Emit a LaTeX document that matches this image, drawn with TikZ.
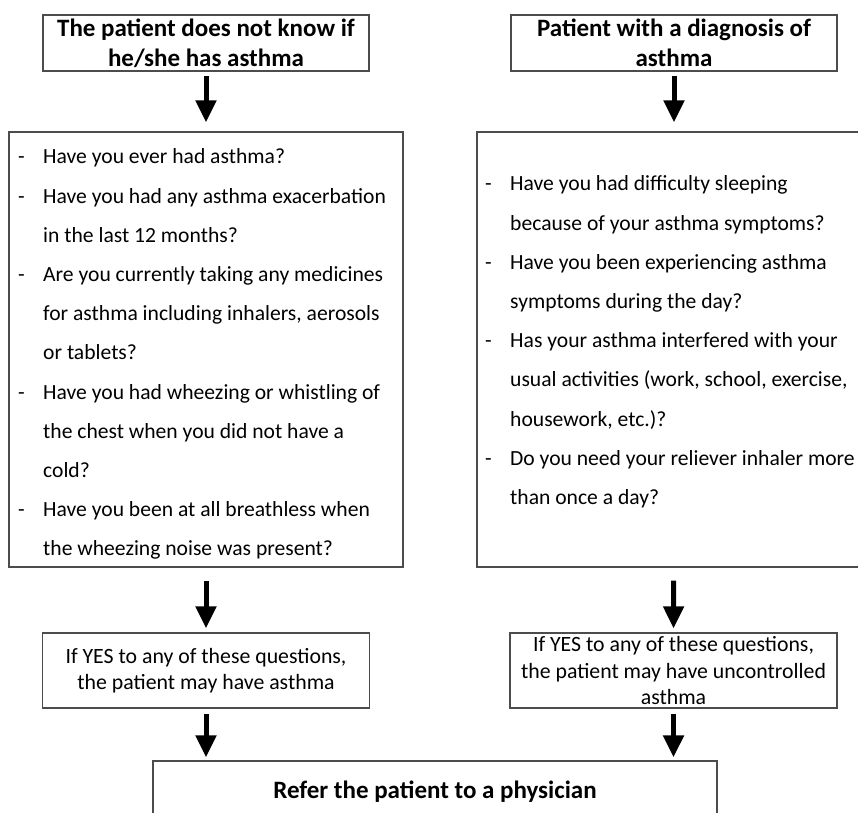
\documentclass[tikz,border=0pt]{standalone}
\usepackage{fontspec}
\setmainfont{Carlito}
\usetikzlibrary{arrows.meta}
\tikzstyle{box}=[rectangle,draw=black!70,line width=1.2pt,inner sep=0pt,align=center]
\tikzstyle{hd}=[box,font=\bfseries\fontsize{25}{30}\selectfont,
  minimum width=326pt,minimum height=56pt]
\tikzstyle{res}=[box,font=\fontsize{21.8}{26.5}\selectfont,
  minimum width=327pt,minimum height=75pt]
\tikzstyle{qs}=[box,minimum width=394pt,minimum height=435pt]
\tikzstyle{qtext}=[align=left,inner sep=0pt,anchor=north west,
  font=\fontsize{21.6}{39.2}\selectfont]
\tikzstyle{arr}=[line width=5pt,-{Triangle[length=22pt,width=20pt]}]
\newcommand{\qi}{\makebox[25pt][l]{-}}
\newcommand{\qc}{\hspace*{25pt}}

\begin{document}
\begin{tikzpicture}[x=1pt,y=-1pt]
        \useasboundingbox (0,0) rectangle (858,812);
        \clip (0,0) rectangle (858,812);
        % top row
        \node[style=hd] (hdL) at (206,43) {The patient does not know if\\he/she has asthma};
        \node[style=hd] (hdR) at (674,43) {Patient with a diagnosis of\\asthma};
        % question boxes
        \node[style=qs] (qL) at (206,349.5) {};
        \node[style=qs] (qR) at (674,349.5) {};
        \node[style=qtext] (qLt) at (18,148.7) {%
          \qi Have you ever had asthma?\\
          \qi Have you had any asthma exacerbation\\
          \qc in the last 12 months?\\
          \qi Are you currently taking any medicines\\
          \qc for asthma including inhalers, aerosols\\
          \qc or tablets?\\
          \qi Have you had wheezing or whistling of\\
          \qc the chest when you did not have a\\
          \qc cold?\\
          \qi Have you been at all breathless when\\
          \qc the wheezing noise was present?};
        \node[style=qtext] (qRt) at (485,175.7) {%
          \qi Have you had difficulty sleeping\\
          \qc because of your asthma symptoms?\\
          \qi Have you been experiencing asthma\\
          \qc symptoms during the day?\\
          \qi Has your asthma interfered with your\\
          \qc usual activities (work, school, exercise,\\
          \qc housework, etc.)?\\
          \qi Do you need your reliever inhaler more\\
          \qc than once a day?};
        % results
        \node[style=res] (resL) at (206,670.5) {If YES to any of these questions,\\the patient may have asthma};
        \node[style=res] (resR) at (673.5,670.5) {If YES to any of these questions,\\the patient may have uncontrolled\\asthma};
        \node[box,font=\bfseries\fontsize{25}{30}\selectfont,
          minimum width=564pt,minimum height=62pt] (ref) at (435,792) {Refer the patient to a physician};
        % arrows
        \draw[arr,shorten <=4pt,shorten >=9pt] (hdL) to (qL);
        \draw[arr,shorten <=4pt,shorten >=9pt] (hdR) to (qR);
        \draw[arr,shorten <=13pt,shorten >=4pt] (qL) to (resL);
        \draw[arr,shorten <=13pt,shorten >=4pt] (qR) to (resR);
        \draw[arr,shorten <=5pt,shorten >=3pt] (resL) to (resL |- ref.north);
        \draw[arr,shorten <=5pt,shorten >=3pt] (resR) to (resR |- ref.north);
    \end{tikzpicture}
\end{document}
